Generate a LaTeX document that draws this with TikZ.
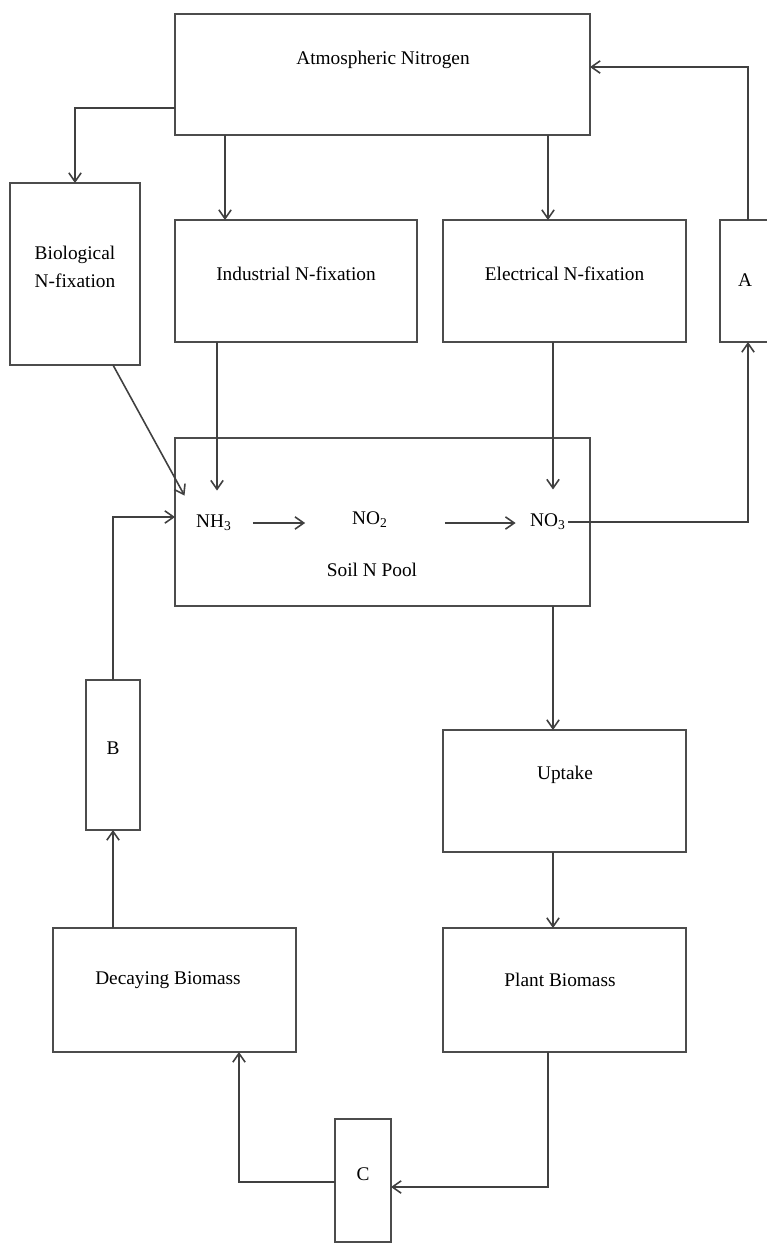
\documentclass[tikz,border=0pt]{standalone}
\usepackage{fontspec}
\setmainfont{Liberation Serif}
\usetikzlibrary{positioning,fit,calc,arrows.meta}
\tikzset{nbox/.style={draw=black!70, line width=1.5pt, inner sep=0pt, outer sep=0pt, align=center, font=\fontsize{11}{16}\selectfont}}
\tikzset{ntxt/.style={inner sep=1pt, font=\fontsize{11}{14}\selectfont}}
\tikzset{arr/.style={draw=black!75, line width=0.9pt, -{Straight Barb[length=5pt,width=7pt]}}}
\begin{document}
\begin{tikzpicture}[x=0.02cm, y=-0.02cm]
	\useasboundingbox (0,0) rectangle (767,1245);
	\clip (0,0) rectangle (767,1245);
	\fill[white] (0,0) rectangle (767,1245);
	% top row
	\node[nbox, fit={(175,14) (590,135)}] (atm) {};
	\node[ntxt] (atmt) at (383,60) {Atmospheric Nitrogen};
	\node[nbox, fit={(10,183) (140,365)}] (bio) {Biological\\N-fixation};
	\node[nbox, fit={(175,220) (417,342)}] (ind) {Industrial N-fixation};
	\node[nbox, fit={(443,220) (686,342)}] (ele) {Electrical N-fixation};
	\node[nbox, fit={(720,220) (800,342)}] (A) {};
	\node[ntxt] (At) at (745,280) {A};
	% soil pool
	\node[nbox, fit={(175,438) (590,606)}] (soil) {};
	\node[ntxt] (nh) at (214,523) {NH\textsubscript{3}};
	\node[ntxt] (notwo) at (370,520) {NO\textsubscript{2}};
	\node[ntxt] (nothree) at (548,522) {NO\textsubscript{3}};
	\node[ntxt] (pool) at (372,570) {Soil N Pool};
	% lower part
	\node[nbox, fit={(443,730) (686,852)}] (upt) {};
	\node[ntxt] (uptt) at (565,775) {Uptake};
	\node[nbox, fit={(443,928) (686,1052)}] (plant) {};
	\node[ntxt] (plantt) at (560,980) {Plant Biomass};
	\node[nbox, fit={(53,928) (296,1052)}] (decay) {};
	\node[ntxt] (decayt) at (168,980) {Decaying Biomass};
	\node[nbox, fit={(86,680) (140,830)}] (B) {B};
	\node[nbox, fit={(335,1119) (391,1242)}] (C) {C};
	% columns and rows for the connectors
	\coordinate (cI) at (225,0);
	\coordinate (cE) at (548,0);
	\coordinate (cA) at (748,0);
	\coordinate (cIn) at (217,0);
	\coordinate (cEn) at (553,0);
	\coordinate (cBio) at (113,0);
	\coordinate (cD) at (239,0);
	\coordinate (rL) at (0,108);
	\coordinate (rA) at (0,67);
	\coordinate (rS) at (0,522);
	\coordinate (rB) at (0,517);
	\coordinate (rC) at (0,1187);
	\coordinate (rCl) at (0,1182);
	% connectors
	\draw[arr] (atm.west |- rL) -| (bio.north);
	\draw[arr] (atm.south -| cI) -- (ind.north -| cI);
	\draw[arr] (atm.south -| cE) -- (ele.north -| cE);
	\draw[arr] (A.north -| cA) |- (atm.east |- rA);
	\draw[arr] (nothree.east |- rS) -| (A.south -| cA);
	\draw[arr, shorten >=0.45cm] (ind.south -| cIn) -- (nh.north -| cIn);
	\draw[arr, shorten >=0.45cm] (ele.south -| cEn) -- (nothree.north -| cEn);
	\draw[arr, shorten >=0.4cm] (bio.south -| cBio) -- (nh.north west);
	\draw[arr, shorten <=0.38cm, shorten >=0.9cm] (nh.east) -- (notwo.west |- nh.east);
	\draw[arr, shorten <=1.1cm, shorten >=0.25cm] (notwo.east |- nh.east) -- (nothree.west |- nh.east);
	\draw[arr] (B.north) |- (soil.west |- rB);
	\draw[arr] (soil.south -| cEn) -- (upt.north -| cEn);
	\draw[arr] (upt.south -| cEn) -- (plant.north -| cEn);
	\draw[arr] (decay.north -| B) -- (B.south);
	\draw[arr] (plant.south -| cE) |- (C.east |- rC);
	\draw[arr] (C.west |- rCl) -| (decay.south -| cD);
\end{tikzpicture}
\end{document}
